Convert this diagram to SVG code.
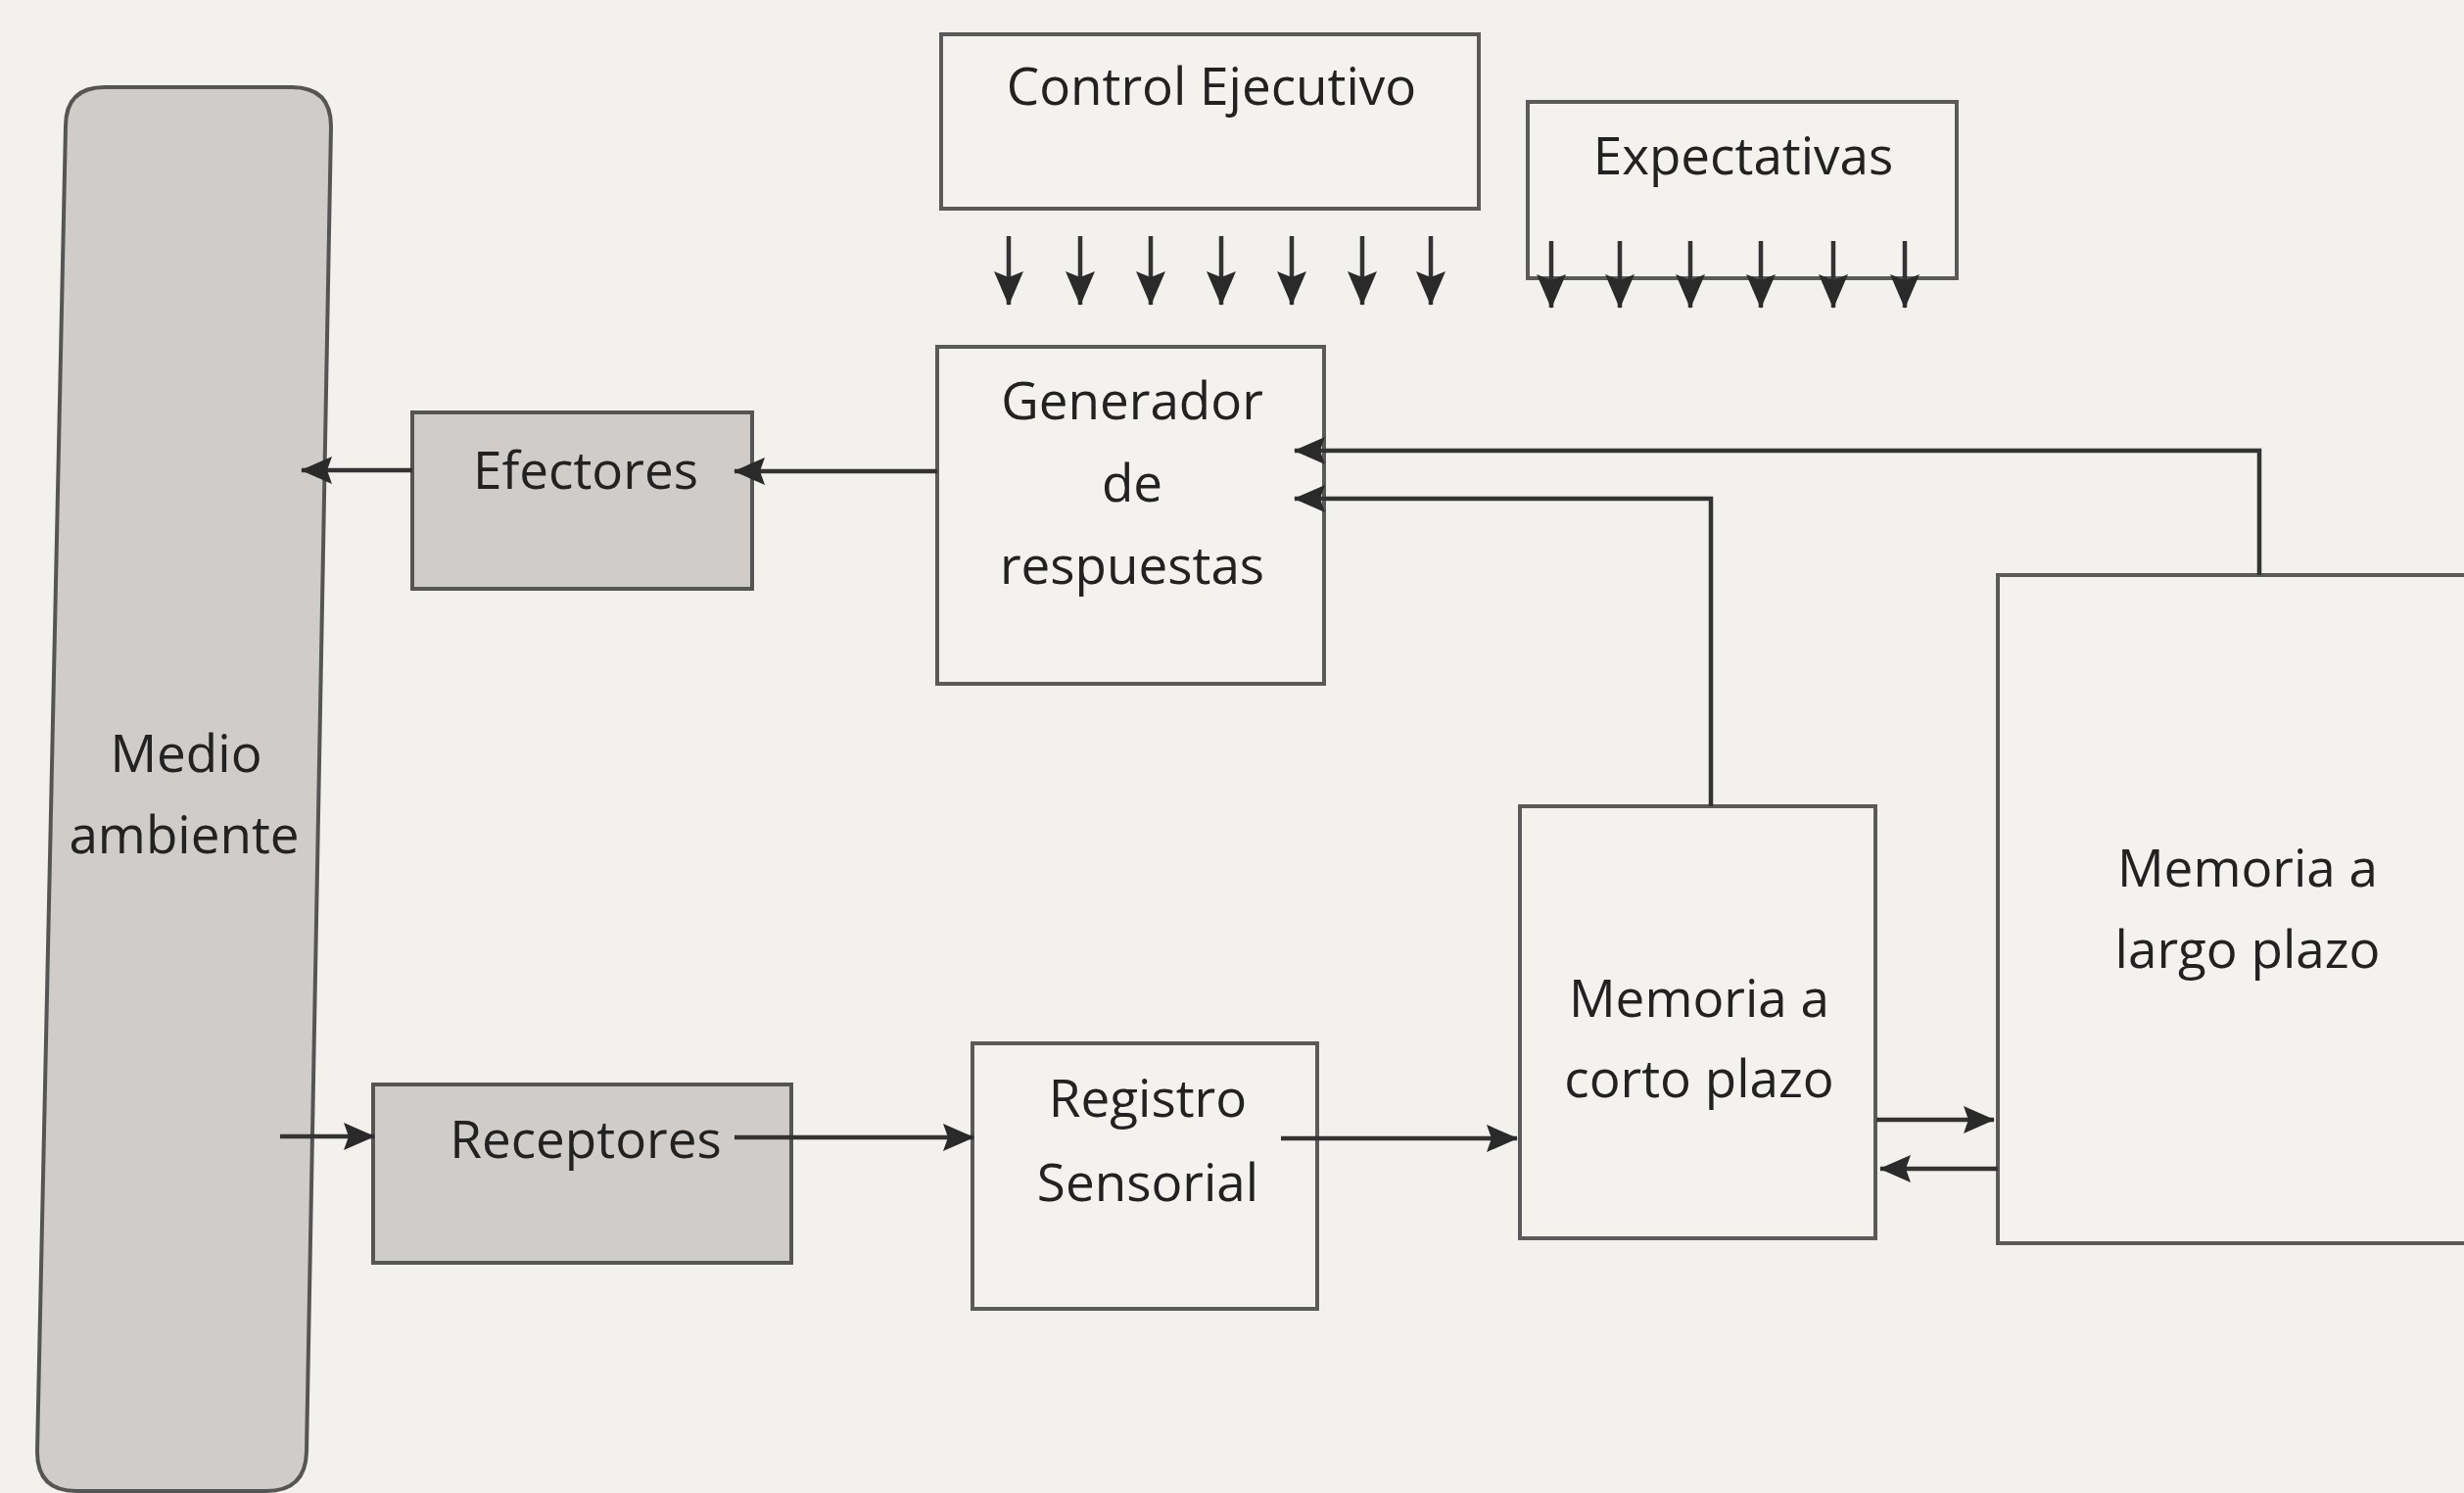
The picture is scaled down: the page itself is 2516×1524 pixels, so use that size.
<svg xmlns="http://www.w3.org/2000/svg" width="2516" height="1524" viewBox="0 0 2516 1524">
<defs>
<marker id="ah" viewBox="0 0 32 28" markerUnits="userSpaceOnUse" markerWidth="32" markerHeight="28" refX="31" refY="14" orient="auto">
<path d="M0,0 L32,14 L0,28 L5,14 Z" fill="#2a2a2a"/>
</marker>
<marker id="av" viewBox="0 0 35 30" markerUnits="userSpaceOnUse" markerWidth="35" markerHeight="30" refX="34" refY="15" orient="auto">
<path d="M0,0 L35,15 L0,30 L6,15 Z" fill="#2a2a2a"/>
</marker>
<style>
.box{fill:#f4f2ef;stroke:#5a5a5a;stroke-width:4}
.grey{fill:#d0ccc9;stroke:#555;stroke-width:4}
.t{font-family:"Open Sans","Noto Sans",sans-serif;font-size:53px;fill:#222;text-anchor:middle}
.c{fill:none;stroke:#333;stroke-width:4.5}
</style>
</defs>
<rect x="0" y="0" width="2516" height="1524" fill="#f3f1ee"/>

<g id="medio-ambiente">
<path class="grey" d="M107,89 H298 Q338,89 338,129 L313,1482 Q312,1522 272,1522 H78 Q38,1522 38,1482 L67,129 Q67,89 107,89 Z"/>
<text class="t" x="190" y="788">Medio</text>
<text class="t" x="188" y="871">ambiente</text>
</g>

<g id="efectores">
<rect class="grey" x="421" y="421" width="347" height="180"/>
<text class="t" x="598" y="499">Efectores</text>
</g>

<g id="receptores">
<rect class="grey" x="381" y="1107" width="427" height="182"/>
<text class="t" x="598" y="1182">Receptores</text>
</g>

<g id="control-ejecutivo">
<rect class="box" x="961" y="35" width="549" height="178"/>
<text class="t" x="1237" y="107">Control Ejecutivo</text>
</g>

<g id="expectativas">
<rect class="box" x="1560" y="104" width="438" height="180"/>
<text class="t" x="1780" y="178">Expectativas</text>
</g>

<g id="generador">
<rect class="box" x="957" y="354" width="395" height="344"/>
<text class="t" x="1156" y="428">Generador</text>
<text class="t" x="1156" y="512">de</text>
<text class="t" x="1156" y="596">respuestas</text>
</g>

<g id="registro-sensorial">
<rect class="box" x="993" y="1065" width="352" height="271"/>
<text class="t" x="1172" y="1140">Registro</text>
<text class="t" x="1172" y="1226">Sensorial</text>
</g>

<g id="memoria-corto">
<rect class="box" x="1552" y="823" width="363" height="441"/>
<text class="t" x="1735" y="1038">Memoria a</text>
<text class="t" x="1735" y="1120">corto plazo</text>
</g>

<g id="memoria-largo">
<rect class="box" x="2040" y="587" width="520" height="682"/>
<text class="t" x="2295" y="905">Memoria a</text>
<text class="t" x="2295" y="988">largo plazo</text>
</g>

<g id="connectors">
<line class="c" x1="421" y1="480" x2="308" y2="480" marker-end="url(#ah)"/>
<line class="c" x1="957" y1="481" x2="750" y2="481" marker-end="url(#ah)"/>
<line class="c" x1="286" y1="1160" x2="382" y2="1160" marker-end="url(#ah)"/>
<line class="c" x1="750" y1="1161" x2="994" y2="1161" marker-end="url(#ah)"/>
<line class="c" x1="1308" y1="1162" x2="1549" y2="1162" marker-end="url(#ah)"/>
<line class="c" x1="1916" y1="1143" x2="2036" y2="1143" marker-end="url(#ah)"/>
<line class="c" x1="2040" y1="1193" x2="1920" y2="1193" marker-end="url(#ah)"/>
<path class="c" d="M2307,587 V460 H1322" marker-end="url(#ah)"/>
<path class="c" d="M1747,823 V509 H1322" marker-end="url(#ah)"/>
<g stroke-width="4">
<line class="c" x1="1030" y1="241" x2="1030" y2="311" marker-end="url(#av)"/>
<line class="c" x1="1103" y1="241" x2="1103" y2="311" marker-end="url(#av)"/>
<line class="c" x1="1175" y1="241" x2="1175" y2="311" marker-end="url(#av)"/>
<line class="c" x1="1247" y1="241" x2="1247" y2="311" marker-end="url(#av)"/>
<line class="c" x1="1319" y1="241" x2="1319" y2="311" marker-end="url(#av)"/>
<line class="c" x1="1391" y1="241" x2="1391" y2="311" marker-end="url(#av)"/>
<line class="c" x1="1461" y1="241" x2="1461" y2="311" marker-end="url(#av)"/>
<line class="c" x1="1584" y1="246" x2="1584" y2="314" marker-end="url(#av)"/>
<line class="c" x1="1654" y1="246" x2="1654" y2="314" marker-end="url(#av)"/>
<line class="c" x1="1726" y1="246" x2="1726" y2="314" marker-end="url(#av)"/>
<line class="c" x1="1798" y1="246" x2="1798" y2="314" marker-end="url(#av)"/>
<line class="c" x1="1872" y1="246" x2="1872" y2="314" marker-end="url(#av)"/>
<line class="c" x1="1945" y1="246" x2="1945" y2="314" marker-end="url(#av)"/>
</g>
</g>
</svg>
